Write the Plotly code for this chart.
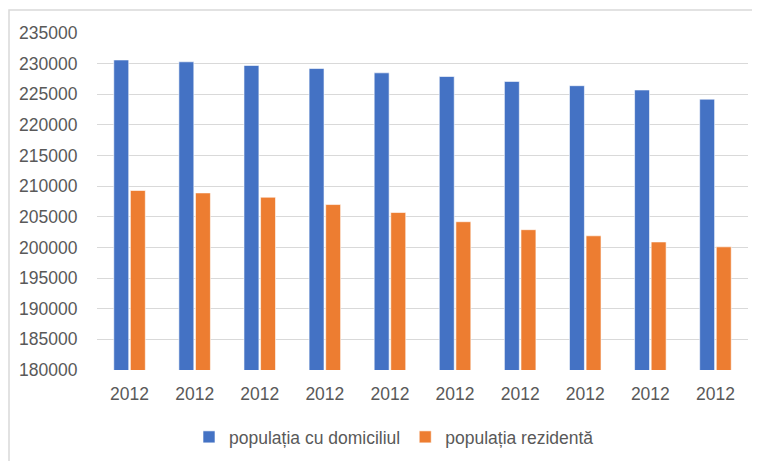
import plotly.graph_objects as go

categories = ["2012"] * 10
domiciliu = [230600, 230300, 229700, 229200, 228500, 227900, 227100, 226400, 225700, 224200]
rezidenta = [209300, 208900, 208200, 207000, 205700, 204200, 202900, 201900, 200900, 200100]
series_names = ["populația cu domiciliul", "populația rezidentă"]
y_ticks = list(range(180000, 235001, 5000))

OFF = 8  # default page body margin
W, H = 760 - OFF, 461 - OFF
ML, MT = 97 - OFF, 33 - OFF
MR = W - (748 - OFF)
MB = H - (370 - OFF)

x_idx = list(range(len(categories)))
font_family = "Liberation Sans, Arial, sans-serif"
gray = "#595959"
FS = 17.5

fig = go.Figure()
fig.add_trace(go.Bar(x=x_idx, y=domiciliu, name=series_names[0],
                     marker=dict(color="#4472C4", line=dict(color="#ffffff", width=0.6))))
fig.add_trace(go.Bar(x=x_idx, y=rezidenta, name=series_names[1],
                     marker=dict(color="#ED7D31", line=dict(color="#ffffff", width=0.6))))

pw = W - ML - MR
ph = H - MT - MB
fig.update_layout(
    width=W, height=H,
    margin=dict(l=ML, r=MR, t=MT, b=MB, pad=0, autoexpand=False),
    paper_bgcolor="white", plot_bgcolor="white",
    barmode="group", bargap=0.49, bargroupgap=0.1,
    font=dict(family=font_family, size=FS, color=gray),
    showlegend=True,
    legend=dict(orientation="h", xref="container", yref="container",
                x=(394 - OFF) / W, xanchor="center",
                y=1 - (437 - OFF) / H, yanchor="middle",
                font=dict(size=FS, color=gray), itemwidth=30,
                traceorder="normal"),
    xaxis=dict(tickmode="array", tickvals=x_idx, ticktext=categories,
               range=[-0.5, len(categories) - 0.5], automargin=False,
               showgrid=False, zeroline=False, showline=False,
               ticks="outside", ticklen=8, tickcolor="rgba(0,0,0,0)",
               tickfont=dict(size=FS, color=gray)),
    yaxis=dict(range=[180000, 235000], tickmode="array", tickvals=y_ticks,
               ticktext=[str(v) for v in y_ticks], automargin=False,
               showgrid=True, gridcolor="#d9d9d9", gridwidth=1,
               zeroline=False, showline=False,
               ticks="outside", ticklen=15, tickcolor="rgba(0,0,0,0)",
               tickfont=dict(size=FS, color=gray)),
)

# outer chart frame (top & left visible)
fig.add_shape(type="rect", xref="paper", yref="paper",
              x0=(9 - OFF - ML) / pw, x1=(W + 20 - ML) / pw,
              y0=-(H + 20 - MT - ph) / ph, y1=1 + (MT - (10 - OFF)) / ph,
              line=dict(color="#d9d9d9", width=1.5), layer="below")

fig.write_html("out.html")
